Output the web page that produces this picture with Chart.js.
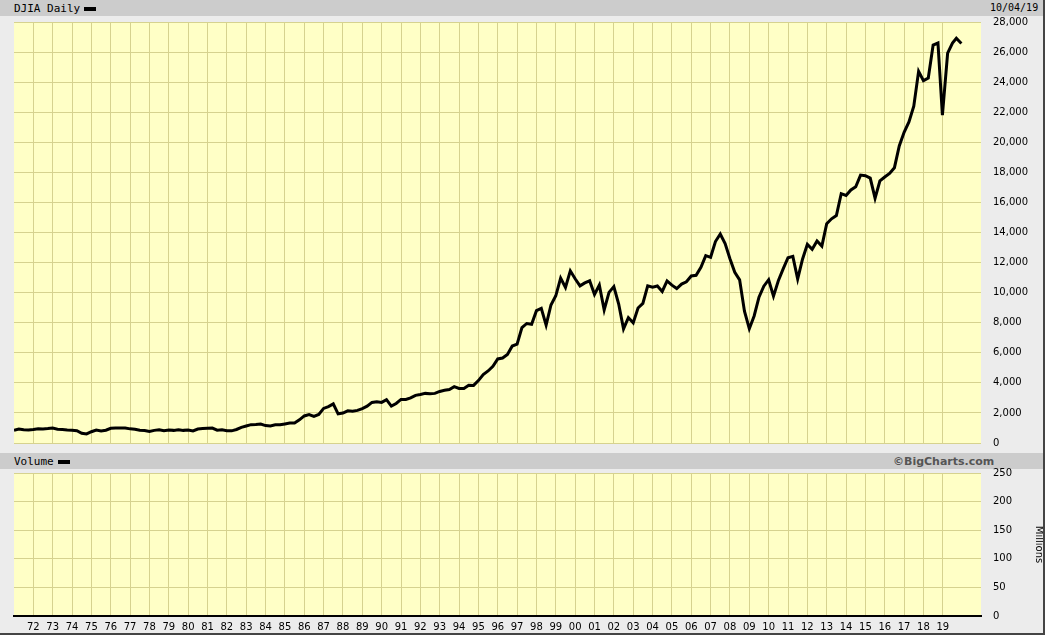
<!DOCTYPE html>
<html><head><meta charset="utf-8">
<script src="https://cdn.jsdelivr.net/npm/chart.js@4"></script>
<style>
body{margin:0;width:1045px;height:635px;background:#ececec;position:relative;overflow:hidden;font-family:"DejaVu Sans Mono",monospace;font-size:11px}
.bar{position:absolute;left:0;width:1045px;height:16px;background:#cccccc;color:#000;z-index:1}
.bar span{position:absolute;top:2px}
.dash{display:inline-block;width:12px;height:4px;background:#000;vertical-align:middle;margin-left:4px}
.box{position:absolute;left:0;width:1045px;z-index:2}
canvas{position:absolute;left:0}
</style></head><body>
<div class="bar" style="top:0"><span style="left:14px">DJIA Daily<i class="dash"></i></span><span style="left:990px;font-size:10px">10/04/19</span></div>
<div class="bar" style="top:453px"><span style="left:893px;color:#555;font-family:'DejaVu Sans';font-weight:bold">©BigCharts.com</span><span style="left:14px">Volume<i class="dash"></i></span></div>
<div class="box" style="top:4px;height:457px"><canvas id="main"></canvas></div>
<div class="box" style="top:455px;height:180px"><canvas id="vol"></canvas></div>
<div style="position:absolute;right:0;top:0;width:2px;height:635px;background:#444;z-index:3"></div>
<div style="position:absolute;left:0;bottom:0;width:1045px;height:2px;background:#444;z-index:3"></div>
<script>
// quarterly closes, 1971.0 .. 2018.75, then late-2018/2019 points
const startYear = 1971;
const djia = [
 850,930,880,860, 900,950,930,960, 1000,920,900,870, 850,820,650,600,
 750,860,800,850, 980,1000,990,1000, 940,920,850,830, 760,840,880,810,
 860,840,880,840, 860,800,930,960, 980,990,850,880, 820,810,900,1040,
 1130,1220,1230,1260, 1160,1130,1210,1210, 1270,1330,1330,1540, 1800,1890,1770,1900,
 2300,2420,2600,1940, 1990,2140,2110,2170, 2290,2450,2700,2750, 2700,2880,2450,2630,
 2900,2900,3000,3170, 3230,3300,3270,3300, 3430,3510,3560,3750, 3630,3620,3840,3830,
 4150,4550,4790,5100, 5590,5650,5880,6450, 6580,7670,7950,7900, 8800,8950,7840,9180,
 9790,10970,10340,11450, 10920,10450,10650,10790, 9880,10500,8850,10020, 10400,9240,7590,8340,
 7990,8980,9280,10450, 10360,10440,10080,10780, 10500,10270,10570,10720, 11110,11150,11680,12460,
 12350,13400,13900,13260, 12260,11350,10850,8770, 7600,8450,9700,10430, 10860,9770,10790,11580,
 12320,12410,10910,12220, 13210,12880,13440,13100, 14580,14910,15130,16580, 16460,16830,17040,17820,
 17780,17620,16280,17430, 17690,17930,18310,19760, 20660,21350,22400,24720, 24100,24270,26460,26600,
 21800,25930,26600,26920, 26570
];
const lateX = [2018.98,2019.25,2019.5,2019.7,2019.96];
const djiaX = djia.map((v,i)=> i<192 ? startYear + i*0.25 : lateX[i-192]);
const yearTicks = [];
for (let y=1972;y<=2019;y++) yearTicks.push(y);
const volTicks = [0,50,100,150,200,250];

const gridCol = '#d6d28f';
const bgPlugin = {id:'bg', beforeDraw(c){const a=c.chartArea,x=c.ctx;x.save();x.fillStyle='#ffffc6';x.fillRect(a.left,a.top,a.right-a.left,a.bottom-a.top);x.restore();}};
const font = {family:'DejaVu Sans', size:10};

function xScale(showLabels){
  return {type:'linear',min:1971.0,max:1971.0+(981-14)/19.35,
    afterBuildTicks(s){s.ticks=yearTicks.map(v=>({value:v}));},
    afterFit(s){s.height=showLabels?19:10;},
    grid:{color:gridCol,drawTicks:false},border:{display:showLabels,color:'#000',width:2},
    ticks:{display:showLabels,color:'#000',font:font,padding:5,maxRotation:0,autoSkip:false,
      callback:v=>String(v%100).padStart(2,'0')}};
}

new Chart(document.getElementById('main'),{
  type:'line',
  data:{datasets:[{data:djia.map((v,i)=>({x:djiaX[i],y:v})),borderColor:'#000',borderWidth:3,pointRadius:0,tension:0}]},
  options:{responsive:true,maintainAspectRatio:false,animation:false,
    layout:{padding:{left:14,top:6,right:0,bottom:0}},
    plugins:{legend:{display:false},tooltip:{enabled:false}},
    scales:{x:xScale(false),
      y:{position:'right',min:0,max:28000,afterFit(s){s.width=64;},
        grid:{color:gridCol,drawTicks:false},border:{display:false},
        ticks:{stepSize:2000,color:'#000',font:font,padding:12,callback:v=>v.toLocaleString('en-US')}}}},
  plugins:[bgPlugin]
});

new Chart(document.getElementById('vol'),{
  type:'line',
  data:{datasets:[{data:[],pointRadius:0}]},
  options:{responsive:true,maintainAspectRatio:false,animation:false,
    layout:{padding:{left:14,top:5,right:0,bottom:0}},
    plugins:{legend:{display:false},tooltip:{enabled:false}},
    scales:{x:xScale(true),
      y:{position:'right',min:0,max:250,afterFit(s){s.width=64;},
        afterBuildTicks(s){s.ticks=volTicks.map(v=>({value:v}));},
        grid:{color:gridCol,drawTicks:false},border:{display:false},
        title:{display:true,text:'Millions',color:'#000',font:font,padding:0},
        ticks:{color:'#000',font:font,padding:12}}}},
  plugins:[bgPlugin]
});
</script></body></html>
